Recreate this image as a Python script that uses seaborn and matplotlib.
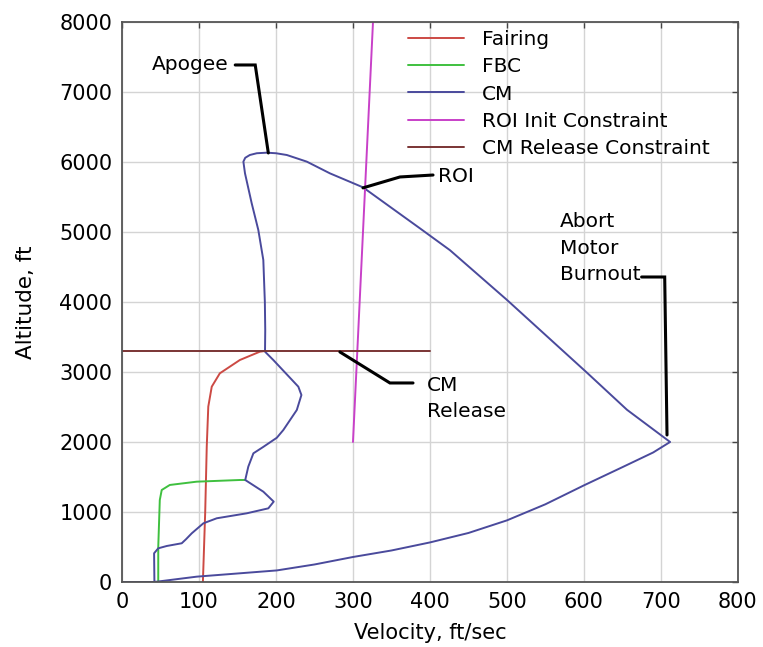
import matplotlib
matplotlib.use('Agg')
import matplotlib.pyplot as plt
import pandas as pd
import seaborn as sns

# Trajectory data (velocity ft/sec, altitude ft)
cm_vel = [0, 42, 97, 201, 250, 300, 350, 400, 450, 500, 550, 600, 650, 690, 712,
          656, 604, 500, 426, 387, 313, 270, 240, 214, 200, 188, 175, 166, 160, 157.6, 159.7, 168.4,
          177, 183.5, 185.5, 186, 185.7, 196.5, 229, 233, 227, 209.5, 201, 183.5,
          170.6, 164, 160, 183.5, 197, 190, 162, 123, 105.6, 90.5, 83, 77.5, 58, 47,
          41.6, 42, 0]
cm_alt = [0, 0, 76, 165, 250, 357, 450, 565, 700, 880, 1110, 1380, 1640, 1850, 2000,
          2460, 2990, 4030, 4740, 5052, 5638, 5838, 6005, 6100, 6125, 6133, 6125, 6100, 6060, 6005, 5838, 5410,
          5029, 4600, 4000, 3600, 3290, 3171, 2790, 2671, 2457, 2171, 2060, 1930,
          1838, 1648, 1457, 1290, 1148, 1052, 981, 910, 838, 695, 610, 553, 514, 481,
          410, 0, 0]

fairing_vel = [185.7, 179, 153, 127, 116.5, 112, 110, 108, 105.6, 105]
fairing_alt = [3300, 3290, 3171, 2981, 2790, 2505, 1933, 1000, 200, 0]

fbc_vel = [160, 153, 97, 62, 51.5, 49, 47, 47]
fbc_alt = [1457, 1457, 1433, 1386, 1314, 1171, 500, 0]

roi_vel = [300, 326]
roi_alt = [2000, 8000]

release_vel = [0, 400]
release_alt = [3300, 3300]

# callout labels and their leader lines
apogee_line = ([147, 173, 190], [7386, 7386, 6129])
roi_line = ([404, 361, 313], [5814, 5786, 5630])
release_line = ([283, 348, 378], [3286, 2843, 2843])
burnout_line = ([675, 705, 708], [4357, 4357, 2100])

sns.set_theme(style='whitegrid')
plt.rcParams['font.family'] = ['DejaVu Sans']
plt.rcParams['text.color'] = 'black'
plt.rcParams['axes.labelcolor'] = 'black'

fig, ax = plt.subplots(figsize=(7.63, 6.47), dpi=100)
fig.subplots_adjust(left=0.160, right=0.967, bottom=0.1005, top=0.966)
ax.set_facecolor('white')

series = [
    ('Fairing', fairing_vel, fairing_alt, '#cc4a44'),
    ('FBC', fbc_vel, fbc_alt, '#3fc03f'),
    ('CM', cm_vel, cm_alt, '#4a4a9c'),
    ('ROI Init Constraint', roi_vel, roi_alt, '#c840c8'),
    ('CM Release Constraint', release_vel, release_alt, '#7a3434'),
]
for name, v, a, c in series:
    d = pd.DataFrame({'v': v, 'a': a})
    sns.lineplot(data=d, x='v', y='a', sort=False, estimator=None, color=c,
                 linewidth=1.4, label=name, ax=ax)

for xs, ys in [apogee_line, roi_line, release_line, burnout_line]:
    ax.plot(xs, ys, color='black', linewidth=2.2, solid_joinstyle='miter')

ax.text(139, 7386, 'Apogee', fontsize=14.5, ha='right', va='center')
ax.text(410, 5790, 'ROI', fontsize=14.5, ha='left', va='center')
ax.text(396, 2940, 'CM\nRelease', fontsize=14.5, ha='left', va='top', linespacing=1.45)
ax.text(569, 5280, 'Abort\nMotor\nBurnout', fontsize=14.5, ha='left', va='top', linespacing=1.5)

ax.set_xlim(0, 800)
ax.set_ylim(0, 8000)
ax.set_xticks(range(0, 801, 100))
ax.set_yticks(range(0, 8001, 1000))
ax.set_xlabel('Velocity, ft/sec', fontsize=15, labelpad=8)
ax.set_ylabel('Altitude, ft', fontsize=15.5, labelpad=17)
ax.tick_params(direction='in', top=True, right=True, length=4, width=1,
               labelsize=15, pad=7, colors='#444444', labelcolor='black')
ax.grid(True, color='#d4d4d4', linewidth=1)
for s in ax.spines.values():
    s.set_color('#555555')
    s.set_linewidth(1.3)

ax.legend(frameon=False, loc='upper left', bbox_to_anchor=(0.464, 0.985),
          borderaxespad=0, borderpad=0, handlelength=2.8, handletextpad=0.9,
          labelspacing=0.4, fontsize=14.5)

fig.savefig('out.png', dpi=100)
